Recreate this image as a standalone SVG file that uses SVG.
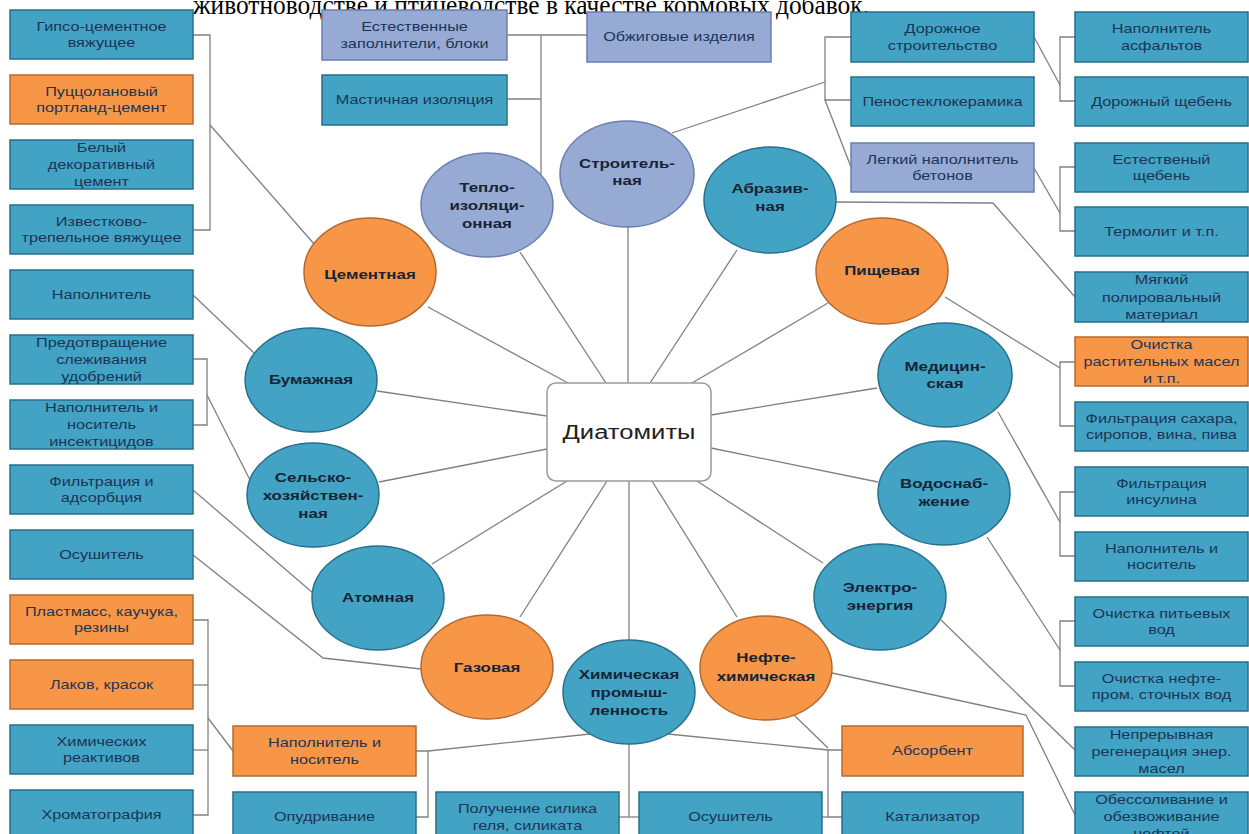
<svg xmlns="http://www.w3.org/2000/svg" width="1249" height="834" viewBox="0 0 1249 834">
<style>
.tl{fill:#42a3c4;stroke:#276f8a;stroke-width:1.5}
.or{fill:#f79646;stroke:#b5692f;stroke-width:1.5}
.lb{fill:#97aad4;stroke:#6a7fae;stroke-width:1.5}
.bt{font-family:"Liberation Sans",Arial,sans-serif;font-size:12.5px;fill:#1b3556;text-anchor:middle}
.ct{font-family:"Liberation Sans",Arial,sans-serif;font-size:13px;font-weight:bold;fill:#172436;text-anchor:middle}
.cn{fill:none;stroke:#808080;stroke-width:1.3}
</style>
<rect width="1249" height="834" fill="#ffffff"/>
<text x="193" y="14" font-family="Liberation Serif,Times New Roman,serif" font-size="28" fill="#000" textLength="676" lengthAdjust="spacingAndGlyphs">животноводстве и птицеводстве в качестве кормовых добавок.</text>

<g id="connectors" class="cn">
<path d="M428,307 L568,383"/>
<path d="M520,252 L606,383"/>
<path d="M628,227 L628,383"/>
<path d="M737,250 L650,383"/>
<path d="M828,303 L692,383"/>
<path d="M877,388 L711,415"/>
<path d="M878,482 L711,448"/>
<path d="M823,563 L697,481"/>
<path d="M737,617 L652,481"/>
<path d="M629,640 L629,481"/>
<path d="M520,617 L607,481"/>
<path d="M432,564 L567,481"/>
<path d="M379,482 L547,449"/>
<path d="M377,391 L547,416"/>
<path d="M193,35 H210 V230 H193"/>
<path d="M210,125 L315,245"/>
<path d="M193,295 L254,353"/>
<path d="M193,359 H207 V425 H193"/>
<path d="M207,395 L250,480"/>
<path d="M193,490 L313,593"/>
<path d="M193,555 L323,658 L421,669"/>
<path d="M192,620 H208 V815 H192"/>
<path d="M192,685 H208"/>
<path d="M192,750 H208"/>
<path d="M208,718 L233,751"/>
<path d="M416,751 H428 V817 H415"/>
<path d="M428,751 L590,734"/>
<path d="M629,744 V817"/>
<path d="M618,817 H639"/>
<path d="M668,734 L828,750"/>
<path d="M842,750 H828 V817 H842"/>
<path d="M821,817 H828"/>
<path d="M794,715 L828,748"/>
<path d="M832,673 L1026,715 L1075,815"/>
<path d="M941,620 L1075,750"/>
<path d="M987,537 L1060,650"/>
<path d="M1075,621 H1060 V686 H1075"/>
<path d="M998,412 L1060,522"/>
<path d="M1075,492 H1060 V556 H1075"/>
<path d="M945,297 L1060,368"/>
<path d="M1075,362 H1060 V426 H1075"/>
<path d="M836,202 L993,203 L1075,297"/>
<path d="M1034,168 L1060,213"/>
<path d="M1075,167 H1060 V231 H1075"/>
<path d="M1034,37 L1060,85"/>
<path d="M1075,37 H1060 V101 H1075"/>
<path d="M851,37 H825 V100 H851"/>
<path d="M825,100 L851,167"/>
<path d="M672,133 L825,82"/>
<path d="M507,35 H587"/>
<path d="M541,35 V175"/>
<path d="M507,99 H541"/>
</g>

<g id="center">
<rect x="547" y="383" width="164" height="98" rx="9" fill="#ffffff" stroke="#9a9a9a" stroke-width="1.5"/>
<text transform="translate(629,439) scale(1.28,1)" font-family="Liberation Sans,Arial,sans-serif" font-size="20" fill="#222" text-anchor="middle">Диатомиты</text>
</g>

<g id="c-cement"><ellipse class="or" cx="370" cy="272" rx="66" ry="54"/><text class="ct" transform="translate(370,279) scale(1.3,1)">Цементная</text></g>
<g id="c-teplo"><ellipse class="lb" cx="487" cy="205" rx="66" ry="52"/><text class="ct" transform="translate(487,205) scale(1.3,1)"><tspan x="0" y="-13">Тепло-</tspan><tspan x="0" y="5">изоляци-</tspan><tspan x="0" y="23">онная</tspan></text></g>
<g id="c-stroit"><ellipse class="lb" cx="627" cy="174" rx="67" ry="53"/><text class="ct" transform="translate(627,168) scale(1.3,1)"><tspan x="0" y="0">Строитель-</tspan><tspan x="0" y="17">ная</tspan></text></g>
<g id="c-abraziv"><ellipse class="tl" cx="770" cy="200" rx="66" ry="53"/><text class="ct" transform="translate(770,193) scale(1.3,1)"><tspan x="0" y="0">Абразив-</tspan><tspan x="0" y="18">ная</tspan></text></g>
<g id="c-pishch"><ellipse class="or" cx="882" cy="271" rx="66" ry="53"/><text class="ct" transform="translate(882,275) scale(1.3,1)">Пищевая</text></g>
<g id="c-medic"><ellipse class="tl" cx="945" cy="375" rx="67" ry="52"/><text class="ct" transform="translate(945,371) scale(1.3,1)"><tspan x="0" y="0">Медицин-</tspan><tspan x="0" y="17">ская</tspan></text></g>
<g id="c-vodo"><ellipse class="tl" cx="944" cy="493" rx="66" ry="52"/><text class="ct" transform="translate(944,488) scale(1.3,1)"><tspan x="0" y="0">Водоснаб-</tspan><tspan x="0" y="18">жение</tspan></text></g>
<g id="c-elektro"><ellipse class="tl" cx="880" cy="597" rx="66" ry="53"/><text class="ct" transform="translate(880,592) scale(1.3,1)"><tspan x="0" y="0">Электро-</tspan><tspan x="0" y="18">энергия</tspan></text></g>
<g id="c-nefte"><ellipse class="or" cx="766" cy="668" rx="66" ry="52"/><text class="ct" transform="translate(766,662) scale(1.3,1)"><tspan x="0" y="0">Нефте-</tspan><tspan x="0" y="19">химическая</tspan></text></g>
<g id="c-chem"><ellipse class="tl" cx="629" cy="692" rx="66" ry="52"/><text class="ct" transform="translate(629,692) scale(1.3,1)"><tspan x="0" y="-13">Химическая</tspan><tspan x="0" y="5">промыш-</tspan><tspan x="0" y="23">ленность</tspan></text></g>
<g id="c-gaz"><ellipse class="or" cx="487" cy="667" rx="66" ry="52"/><text class="ct" transform="translate(487,672) scale(1.3,1)">Газовая</text></g>
<g id="c-atom"><ellipse class="tl" cx="378" cy="598" rx="66" ry="52"/><text class="ct" transform="translate(378,602) scale(1.3,1)">Атомная</text></g>
<g id="c-selsk"><ellipse class="tl" cx="313" cy="495" rx="66" ry="52"/><text class="ct" transform="translate(313,495) scale(1.3,1)"><tspan x="0" y="-13">Сельско-</tspan><tspan x="0" y="5">хозяйствен-</tspan><tspan x="0" y="23">ная</tspan></text></g>
<g id="c-bumazh"><ellipse class="tl" cx="311" cy="380" rx="66" ry="52"/><text class="ct" transform="translate(311,384) scale(1.3,1)">Бумажная</text></g>

<g id="b-gipso"><rect class="tl" x="10" y="10" width="183" height="49"/><text class="bt" transform="translate(101.5,34.5) scale(1.3,1)"><tspan x="0" y="-4">Гипсо-цементное</tspan><tspan x="0" y="13">вяжущее</tspan></text></g>
<g id="b-puzz"><rect class="or" x="10" y="75" width="183" height="49"/><text class="bt" transform="translate(101.5,99.5) scale(1.3,1)"><tspan x="0" y="-4">Пуццолановый</tspan><tspan x="0" y="13">портланд-цемент</tspan></text></g>
<g id="b-belyi"><rect class="tl" x="10" y="140" width="183" height="49"/><text class="bt" transform="translate(101.5,164.5) scale(1.3,1)"><tspan x="0" y="-13">Белый</tspan><tspan x="0" y="4.5">декоративный</tspan><tspan x="0" y="22">цемент</tspan></text></g>
<g id="b-izvest"><rect class="tl" x="10" y="205" width="183" height="49"/><text class="bt" transform="translate(101.5,229.5) scale(1.3,1)"><tspan x="0" y="-4">Известково-</tspan><tspan x="0" y="13">трепельное вяжущее</tspan></text></g>
<g id="b-napoln1"><rect class="tl" x="10" y="270" width="183" height="49"/><text class="bt" transform="translate(101.5,299) scale(1.3,1)">Наполнитель</text></g>
<g id="b-predotv"><rect class="tl" x="10" y="335" width="183" height="49"/><text class="bt" transform="translate(101.5,359.5) scale(1.3,1)"><tspan x="0" y="-13">Предотвращение</tspan><tspan x="0" y="4.5">слеживания</tspan><tspan x="0" y="22">удобрений</tspan></text></g>
<g id="b-insekt"><rect class="tl" x="10" y="400" width="183" height="49"/><text class="bt" transform="translate(101.5,424.5) scale(1.3,1)"><tspan x="0" y="-13">Наполнитель и</tspan><tspan x="0" y="4.5">носитель</tspan><tspan x="0" y="22">инсектицидов</tspan></text></g>
<g id="b-filtr"><rect class="tl" x="10" y="465" width="183" height="49"/><text class="bt" transform="translate(101.5,489.5) scale(1.3,1)"><tspan x="0" y="-4">Фильтрация и</tspan><tspan x="0" y="13">адсорбция</tspan></text></g>
<g id="b-osush1"><rect class="tl" x="10" y="530" width="183" height="49"/><text class="bt" transform="translate(101.5,559) scale(1.3,1)">Осушитель</text></g>
<g id="b-plast"><rect class="or" x="10" y="595" width="183" height="49"/><text class="bt" transform="translate(101.5,619.5) scale(1.3,1)"><tspan x="0" y="-4">Пластмасс, каучука,</tspan><tspan x="0" y="13">резины</tspan></text></g>
<g id="b-lakov"><rect class="or" x="10" y="660" width="183" height="49"/><text class="bt" transform="translate(101.5,689) scale(1.3,1)">Лаков, красок</text></g>
<g id="b-reakt"><rect class="tl" x="10" y="725" width="183" height="49"/><text class="bt" transform="translate(101.5,749.5) scale(1.3,1)"><tspan x="0" y="-4">Химических</tspan><tspan x="0" y="13">реактивов</tspan></text></g>
<g id="b-chrom"><rect class="tl" x="10" y="790" width="183" height="52"/><text class="bt" transform="translate(101.5,819) scale(1.3,1)">Хроматография</text></g>

<g id="b-estestv"><rect class="lb" x="322" y="10" width="185" height="50"/><text class="bt" transform="translate(414.5,35) scale(1.3,1)"><tspan x="0" y="-4">Естественные</tspan><tspan x="0" y="13">заполнители, блоки</tspan></text></g>
<g id="b-mastich"><rect class="tl" x="322" y="75" width="185" height="50"/><text class="bt" transform="translate(414.5,104) scale(1.3,1)">Мастичная изоляция</text></g>
<g id="b-obzhig"><rect class="lb" x="587" y="12" width="184" height="50"/><text class="bt" transform="translate(679,41) scale(1.3,1)">Обжиговые изделия</text></g>

<g id="b-dorozh"><rect class="tl" x="851" y="12" width="183" height="50"/><text class="bt" transform="translate(942.5,37) scale(1.3,1)"><tspan x="0" y="-4">Дорожное</tspan><tspan x="0" y="13">строительство</tspan></text></g>
<g id="b-penost"><rect class="tl" x="851" y="77" width="183" height="49"/><text class="bt" transform="translate(942.5,106) scale(1.3,1)">Пеностеклокерамика</text></g>
<g id="b-legk"><rect class="lb" x="851" y="143" width="183" height="49"/><text class="bt" transform="translate(942.5,167.5) scale(1.3,1)"><tspan x="0" y="-4">Легкий наполнитель</tspan><tspan x="0" y="13">бетонов</tspan></text></g>

<g id="b-asfalt"><rect class="tl" x="1075" y="12" width="173" height="50"/><text class="bt" transform="translate(1161.5,37) scale(1.3,1)"><tspan x="0" y="-4">Наполнитель</tspan><tspan x="0" y="13">асфальтов</tspan></text></g>
<g id="b-dshcheb"><rect class="tl" x="1075" y="77" width="173" height="49"/><text class="bt" transform="translate(1161.5,106) scale(1.3,1)">Дорожный щебень</text></g>
<g id="b-eshcheb"><rect class="tl" x="1075" y="143" width="173" height="49"/><text class="bt" transform="translate(1161.5,167.5) scale(1.3,1)"><tspan x="0" y="-4">Естественый</tspan><tspan x="0" y="13">щебень</tspan></text></g>
<g id="b-termolit"><rect class="tl" x="1075" y="207" width="173" height="49"/><text class="bt" transform="translate(1161.5,236) scale(1.3,1)">Термолит и т.п.</text></g>
<g id="b-myagk"><rect class="tl" x="1075" y="272" width="173" height="50"/><text class="bt" transform="translate(1161.5,297) scale(1.3,1)"><tspan x="0" y="-13">Мягкий</tspan><tspan x="0" y="4.5">полировальный</tspan><tspan x="0" y="22">материал</tspan></text></g>
<g id="b-maslo"><rect class="or" x="1075" y="337" width="173" height="49"/><text class="bt" transform="translate(1161.5,361.5) scale(1.3,1)"><tspan x="0" y="-13">Очистка</tspan><tspan x="0" y="4.5">растительных масел</tspan><tspan x="0" y="22">и т.п.</tspan></text></g>
<g id="b-sahar"><rect class="tl" x="1075" y="402" width="173" height="49"/><text class="bt" transform="translate(1161.5,426.5) scale(1.3,1)"><tspan x="0" y="-4">Фильтрация сахара,</tspan><tspan x="0" y="13">сиропов, вина, пива</tspan></text></g>
<g id="b-insulin"><rect class="tl" x="1075" y="467" width="173" height="49"/><text class="bt" transform="translate(1161.5,491.5) scale(1.3,1)"><tspan x="0" y="-4">Фильтрация</tspan><tspan x="0" y="13">инсулина</tspan></text></g>
<g id="b-napnos2"><rect class="tl" x="1075" y="532" width="173" height="49"/><text class="bt" transform="translate(1161.5,556.5) scale(1.3,1)"><tspan x="0" y="-4">Наполнитель и</tspan><tspan x="0" y="13">носитель</tspan></text></g>
<g id="b-pitev"><rect class="tl" x="1075" y="597" width="173" height="49"/><text class="bt" transform="translate(1161.5,621.5) scale(1.3,1)"><tspan x="0" y="-4">Очистка питьевых</tspan><tspan x="0" y="13">вод</tspan></text></g>
<g id="b-stoch"><rect class="tl" x="1075" y="662" width="173" height="49"/><text class="bt" transform="translate(1161.5,686.5) scale(1.3,1)"><tspan x="0" y="-4">Очистка нефте-</tspan><tspan x="0" y="13">пром. сточных вод</tspan></text></g>
<g id="b-regen"><rect class="tl" x="1075" y="727" width="173" height="49"/><text class="bt" transform="translate(1161.5,751.5) scale(1.3,1)"><tspan x="0" y="-13">Непрерывная</tspan><tspan x="0" y="4.5">регенерация энер.</tspan><tspan x="0" y="22">масел</tspan></text></g>
<g id="b-obessol"><rect class="tl" x="1075" y="792" width="173" height="50"/><text class="bt" transform="translate(1161.5,816.5) scale(1.3,1)"><tspan x="0" y="-13">Обессоливание и</tspan><tspan x="0" y="4.5">обезвоживание</tspan><tspan x="0" y="22">нефтей</tspan></text></g>

<g id="b-napnos3"><rect class="or" x="233" y="726" width="183" height="50"/><text class="bt" transform="translate(324.5,751) scale(1.3,1)"><tspan x="0" y="-4">Наполнитель и</tspan><tspan x="0" y="13">носитель</tspan></text></g>
<g id="b-opudr"><rect class="tl" x="233" y="792" width="183" height="50"/><text class="bt" transform="translate(324.5,821) scale(1.3,1)">Опудривание</text></g>
<g id="b-silika"><rect class="tl" x="436" y="792" width="183" height="50"/><text class="bt" transform="translate(527.5,817) scale(1.3,1)"><tspan x="0" y="-4">Получение силика</tspan><tspan x="0" y="13">геля, силиката</tspan></text></g>
<g id="b-osush2"><rect class="tl" x="639" y="792" width="183" height="50"/><text class="bt" transform="translate(730.5,821) scale(1.3,1)">Осушитель</text></g>
<g id="b-absorb"><rect class="or" x="842" y="726" width="181" height="50"/><text class="bt" transform="translate(932.5,755) scale(1.3,1)">Абсорбент</text></g>
<g id="b-katal"><rect class="tl" x="842" y="792" width="181" height="50"/><text class="bt" transform="translate(932.5,821) scale(1.3,1)">Катализатор</text></g>
</svg>
